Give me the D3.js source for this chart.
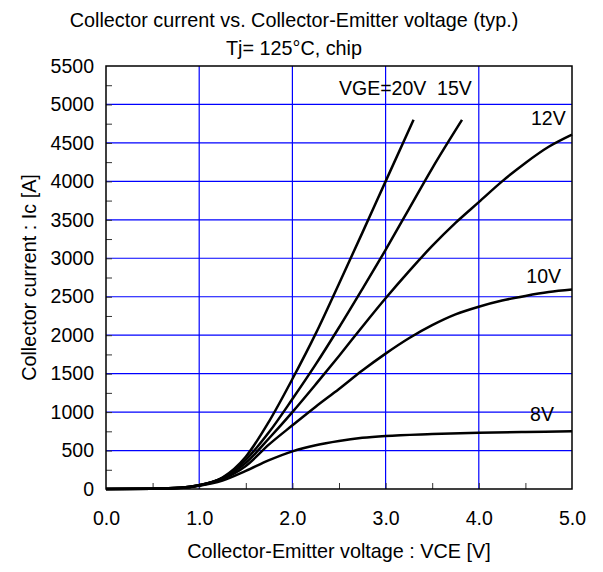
<!DOCTYPE html>
<html>
<head>
<meta charset="utf-8">
<script src="https://cdn.jsdelivr.net/npm/d3@7"></script>
<style>
  body { margin: 0; background: #fff; }
  text { font-family: "Liberation Sans", Arial, sans-serif; fill: #000; }
</style>
</head>
<body>
<div id="chart-container"></div>
<script>
// Data (VCE [V], Ic [A])
var vge20 = [[0, 0], [0.5, 4], [0.8, 15], [1.0, 48], [1.25, 150], [1.5, 420], [1.75, 880], [2.0, 1430],
  [2.25, 2020], [2.5, 2670], [2.75, 3330], [3.0, 4000], [3.3, 4800]];
var vge15 = [[0, 0], [0.5, 4], [0.8, 15], [1.0, 48], [1.25, 145], [1.5, 380], [1.75, 740], [2.0, 1170],
  [2.25, 1620], [2.5, 2100], [2.75, 2600], [3.0, 3110], [3.25, 3640], [3.5, 4170], [3.82, 4800]];
var vge12 = [[0, 0], [0.5, 4], [0.8, 15], [1.0, 48], [1.25, 140], [1.5, 340], [1.75, 660], [2.0, 1000],
  [2.25, 1360], [2.5, 1730], [2.75, 2110], [3.0, 2480], [3.25, 2830], [3.5, 3160], [3.75, 3460],
  [4.0, 3730], [4.25, 4000], [4.5, 4240], [4.75, 4450], [5.0, 4608]];
var vge10 = [[0, 0], [0.5, 4], [0.8, 15], [1.0, 46], [1.25, 130], [1.5, 300], [1.75, 580], [2.0, 828],
  [2.25, 1070], [2.5, 1300], [2.75, 1540], [3.0, 1760], [3.25, 1960], [3.5, 2130], [3.75, 2270],
  [4.0, 2370], [4.25, 2450], [4.5, 2510], [4.75, 2560], [5.0, 2593]];
var vge8 = [[0, 0], [0.5, 4], [0.8, 14], [1.0, 42], [1.25, 110], [1.5, 235], [1.75, 375], [2.0, 490],
  [2.25, 570], [2.5, 625], [2.75, 665], [3.0, 690], [3.5, 715], [4.0, 733], [4.5, 742], [5.0, 750]];

var seriesList = [vge20, vge15, vge12, vge10, vge8];

// Curve labels: text, VCE, Ic of the text start
var labelText = ["VGE=20V  15V", "12V", "10V", "8V"];
var labelPos = [[2.5, 5120], [4.56, 4739], [4.51, 2679], [4.55, 884]];

var xTicks = [0, 1, 2, 3, 4, 5];
var yTicks = [0, 500, 1000, 1500, 2000, 2500, 3000, 3500, 4000, 4500, 5000, 5500];

var chartTitle = ["Collector current vs. Collector-Emitter voltage (typ.)", "Tj= 125°C, chip"];
var xTitle = "Collector-Emitter voltage : VCE [V]";
var yTitle = "Collector current : Ic [A]";

// Set up SVG dimensions
var W = 603, H = 572;
var margin = { top: 66, right: 31, bottom: 83, left: 106 },
  width = W - margin.left - margin.right,
  height = H - margin.top - margin.bottom;

var root = d3.select("#chart-container")
  .append("svg")
  .attr("width", W)
  .attr("height", H);

var svg = root.append("g")
  .attr("transform", "translate(" + margin.left + "," + margin.top + ")");

// Set up scales
var x = d3.scaleLinear().domain([0, 5]).range([0, width]);
var y = d3.scaleLinear().domain([0, 5500]).range([height, 0]);

// Grid lines
svg.selectAll(".vgrid")
  .data(xTicks.slice(1, -1))
  .enter().append("line")
  .attr("x1", function(d) { return x(d); })
  .attr("x2", function(d) { return x(d); })
  .attr("y1", 0).attr("y2", height)
  .style("stroke", "#0000ff").style("stroke-width", 1.2);

svg.selectAll(".hgrid")
  .data(yTicks.slice(1, -1))
  .enter().append("line")
  .attr("y1", function(d) { return y(d); })
  .attr("y2", function(d) { return y(d); })
  .attr("x1", 0).attr("x2", width)
  .style("stroke", "#0000ff").style("stroke-width", 1.2);

// Inner tick marks (every 250 A and 0.5 V)
svg.append("g")
  .call(d3.axisLeft(y).tickValues(d3.range(250, 5500, 250)).tickSize(-6).tickFormat(""))
  .call(function(g) { g.select(".domain").remove(); })
  .selectAll("line").style("stroke", "#333");

svg.append("g")
  .attr("transform", "translate(0," + height + ")")
  .call(d3.axisBottom(x).tickValues(d3.range(0.5, 5, 0.5)).tickSize(-6).tickFormat(""))
  .call(function(g) { g.select(".domain").remove(); })
  .selectAll("line").style("stroke", "#333");

// Tick labels
svg.append("g")
  .call(d3.axisLeft(y).tickValues(yTicks).tickSize(0).tickPadding(12).tickFormat(d3.format("d")))
  .call(function(g) { g.select(".domain").remove(); })
  .selectAll("text")
  .style("font-size", "19.5px")
  .style("font-family", "Liberation Sans, Arial, sans-serif");

svg.append("g")
  .attr("transform", "translate(0," + height + ")")
  .call(d3.axisBottom(x).tickValues(xTicks).tickSize(0).tickPadding(22).tickFormat(d3.format(".1f")))
  .call(function(g) { g.select(".domain").remove(); })
  .selectAll("text")
  .style("font-size", "19.5px")
  .style("font-family", "Liberation Sans, Arial, sans-serif");

// Curves
var line = d3.line()
  .x(function(d) { return x(d[0]); })
  .y(function(d) { return y(d[1]); })
  .curve(d3.curveMonotoneX);

seriesList.forEach(function(s) {
  svg.append("path")
    .datum(s)
    .attr("d", line)
    .style("fill", "none")
    .style("stroke", "#000")
    .style("stroke-width", 2.5);
});

// Frame
svg.append("rect")
  .attr("width", width)
  .attr("height", height)
  .style("fill", "none")
  .style("stroke", "#000")
  .style("stroke-width", 1.5);

// Curve labels
svg.selectAll(".clabel")
  .data(labelText)
  .enter().append("text")
  .attr("x", function(d, i) { return x(labelPos[i][0]); })
  .attr("y", function(d, i) { return y(labelPos[i][1]); })
  .style("font-size", "19.5px")
  .style("white-space", "pre")
  .attr("xml:space", "preserve")
  .text(function(d) { return d; });

// Titles
root.selectAll(".title")
  .data(chartTitle)
  .enter().append("text")
  .attr("x", 294)
  .attr("y", function(d, i) { return 27 + i * 28; })
  .attr("text-anchor", "middle")
  .style("font-size", "19.8px")
  .text(function(d) { return d; });

root.append("text")
  .attr("x", margin.left + width / 2)
  .attr("y", 558)
  .attr("text-anchor", "middle")
  .style("font-size", "19.8px")
  .text(xTitle);

root.append("text")
  .attr("transform", "translate(36," + (margin.top + height / 2) + ") rotate(-90)")
  .attr("text-anchor", "middle")
  .style("font-size", "19.8px")
  .text(yTitle);
</script>
</body>
</html>
